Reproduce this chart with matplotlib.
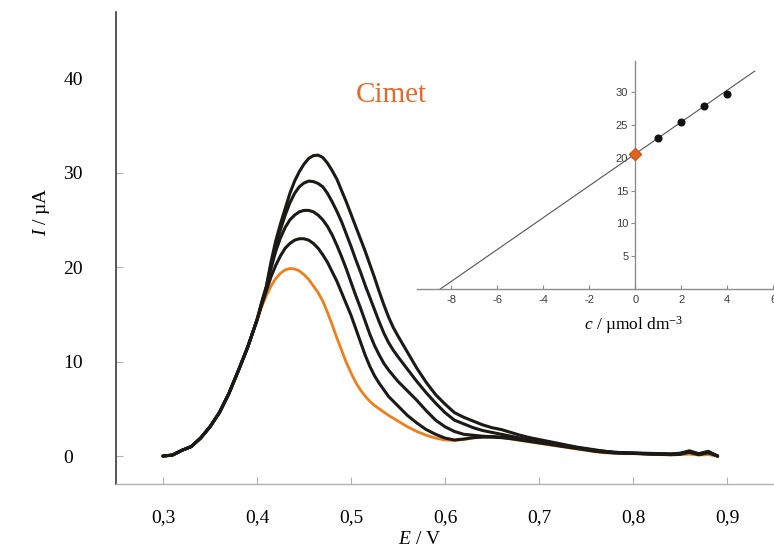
import numpy as np
import matplotlib
matplotlib.use("Agg")
import matplotlib.pyplot as plt

plt.rcParams["mathtext.fontset"] = "custom"
plt.rcParams["mathtext.rm"] = "Liberation Serif"
plt.rcParams["mathtext.it"] = "Liberation Serif:italic"

# ---------------- data ----------------
E = [0.30, 0.31, 0.32, 0.33, 0.34, 0.35, 0.36, 0.37, 0.38, 0.39, 0.40,
     0.405, 0.41, 0.415, 0.42, 0.425, 0.43, 0.435, 0.44, 0.445, 0.45,
     0.455, 0.46, 0.465, 0.47, 0.475, 0.48, 0.485, 0.49, 0.495, 0.50,
     0.505, 0.51, 0.515, 0.52, 0.525, 0.53, 0.535, 0.54, 0.545, 0.55,
     0.56, 0.57, 0.58, 0.59, 0.60, 0.61, 0.62, 0.63, 0.64, 0.65,
     0.66, 0.67, 0.68, 0.69, 0.70, 0.71, 0.72, 0.73, 0.74, 0.75,
     0.76, 0.77, 0.78, 0.79, 0.80, 0.81, 0.82, 0.83, 0.84, 0.85,
     0.86, 0.87, 0.88, 0.89]

rise = [0.0, 0.1, 0.6, 1.0, 1.9, 3.1, 4.6, 6.6, 9.0, 11.5, 14.4]

I_sample = rise + [
    15.8, 17.0, 18.0, 18.8, 19.35, 19.7, 19.85, 19.8, 19.6, 19.2,
    18.7, 18.0, 17.3, 16.4, 15.2, 13.9, 12.5, 11.2, 9.9, 8.8,
    7.8, 7.0, 6.35, 5.8, 5.35, 5.0, 4.65, 4.3, 4.0, 3.7,
    3.1, 2.6, 2.2, 1.9, 1.7, 1.65, 1.75, 1.9, 2.05, 2.1,
    1.95, 1.8, 1.65, 1.5, 1.35, 1.2, 1.05, 0.9, 0.75, 0.6,
    0.45, 0.35, 0.3, 0.25, 0.25, 0.2, 0.15, 0.15, 0.1, 0.15,
    0.2, 0.1, 0.15, 0.0]

I_add1 = rise + [
    16.0, 17.5, 19.0, 20.2, 21.2, 22.0, 22.5, 22.85, 23.0, 23.0,
    22.85, 22.5, 22.0, 21.3, 20.5, 19.5, 18.5, 17.3, 16.1, 14.9,
    13.5, 12.1, 10.7, 9.5, 8.5, 7.7, 7.0, 6.3, 5.8, 5.3,
    4.3, 3.5, 2.8, 2.3, 1.9, 1.7, 1.8, 1.95, 2.0, 2.0,
    1.95, 1.85, 1.7, 1.55, 1.4, 1.25, 1.1, 0.95, 0.8, 0.65,
    0.5, 0.4, 0.33, 0.3, 0.28, 0.25, 0.2, 0.2, 0.15, 0.2,
    0.4, 0.15, 0.35, 0.0]

I_add2 = rise + [
    16.1, 17.7, 19.9, 21.7, 23.1, 24.2, 25.0, 25.5, 25.85, 26.0,
    26.0, 25.85, 25.5, 25.0, 24.3, 23.4, 22.3, 21.1, 19.8, 18.4,
    17.0, 15.7, 14.3, 12.9, 11.7, 10.7, 9.8, 9.1, 8.5, 7.9,
    6.9, 5.9, 4.8, 3.8, 3.1, 2.6, 2.3, 2.2, 2.1, 2.05,
    2.0, 1.9, 1.75, 1.6, 1.45, 1.3, 1.15, 1.0, 0.85, 0.7,
    0.55, 0.45, 0.35, 0.32, 0.3, 0.25, 0.22, 0.2, 0.18, 0.2,
    0.45, 0.15, 0.4, 0.0]

I_add3 = rise + [
    16.2, 17.9, 20.3, 22.3, 24.0, 25.5, 26.8, 27.8, 28.5, 28.9,
    29.1, 29.05, 28.85, 28.5, 27.8, 26.9, 25.9, 24.8, 23.5, 22.2,
    20.8, 19.5, 18.1, 16.8, 15.5, 14.2, 13.0, 12.0, 11.2, 10.5,
    9.2, 7.9, 6.7, 5.6, 4.6, 3.8, 3.4, 3.0, 2.7, 2.5,
    2.3, 2.1, 1.9, 1.7, 1.55, 1.4, 1.2, 1.05, 0.9, 0.75,
    0.6, 0.5, 0.4, 0.35, 0.32, 0.28, 0.25, 0.22, 0.2, 0.25,
    0.5, 0.2, 0.45, 0.0]

I_add4 = rise + [
    16.3, 18.0, 20.6, 22.8, 24.6, 26.2, 27.8, 29.1, 30.1, 30.9,
    31.5, 31.8, 31.85, 31.6, 31.0, 30.2, 29.3, 28.1, 26.9, 25.6,
    24.3, 23.0, 21.7, 20.3, 18.9, 17.4, 16.0, 14.7, 13.6, 12.7,
    11.0, 9.3, 7.8, 6.5, 5.5, 4.6, 4.1, 3.7, 3.3, 3.0,
    2.8, 2.5, 2.2, 1.95, 1.75, 1.55, 1.35, 1.15, 0.95, 0.8,
    0.65, 0.5, 0.4, 0.35, 0.32, 0.3, 0.28, 0.25, 0.22, 0.3,
    0.55, 0.25, 0.5, 0.0]

black_series = [I_add1, I_add2, I_add3, I_add4]

x_ticks = [0.3, 0.4, 0.5, 0.6, 0.7, 0.8, 0.9]
x_ticklabels = ["0,3", "0,4", "0,5", "0,6", "0,7", "0,8", "0,9"]
y_ticks = [0, 10, 20, 30, 40]

# inset: standard addition plot
c_added = [1, 2, 3, 4]
I_added = [23.0, 25.5, 27.9, 29.7]
c_sample = [0]
I_peak_sample = [20.6]
fit_slope = 2.43
fit_intercept = 20.62
fit_c_end = 5.2
inset_xticks = [-8, -6, -4, -2, 0, 2, 4, 6]
inset_yticks = [5, 10, 15, 20, 25, 30]

ORANGE = "#EE7F1A"
ORANGE_TXT = "#E8692A"
BLACK = "#1c1a17"

# ---------------- figure ----------------
fig = plt.figure(figsize=(7.74, 5.52), dpi=100)
serif = ["Liberation Serif", "DejaVu Serif"]
sans = ["Liberation Sans", "DejaVu Sans"]

ax = fig.add_axes([116 / 774, (552 - 484) / 552, (774 - 116) / 774, (484 - 12) / 552])
ax.set_xlim(0.25, 0.95)
ax.set_ylim(-2.96, 47.0)

for s in black_series:
    ax.plot(E, s, color=BLACK, lw=2.2, solid_joinstyle="round", solid_capstyle="round", zorder=3)
ax.plot(E, I_sample, color=ORANGE, lw=2.0, solid_joinstyle="round", zorder=2)

for side in ["top", "right"]:
    ax.spines[side].set_visible(False)
ax.spines["left"].set_color("#3a3a3a")
ax.spines["left"].set_linewidth(1.2)
ax.spines["bottom"].set_color("#b0b0b0")
ax.spines["bottom"].set_linewidth(1.0)

ax.set_xticks(x_ticks)
ax.set_xticklabels(x_ticklabels, fontfamily=serif, fontsize=14)
ax.set_yticks(y_ticks)
ax.set_yticklabels([str(v) for v in y_ticks], fontfamily=serif, fontsize=14)
for lbl in ax.get_yticklabels():
    lbl.set_horizontalalignment("left")
ax.tick_params(axis="x", direction="in", length=5, width=0.8, color="#b0b0b0", pad=18)
ax.tick_params(axis="y", direction="in", length=5, width=0.8, color="#b0b0b0", pad=38)
ax.yaxis.get_major_ticks()[-1].tick1line.set_visible(False)

fig.text(420 / 774, 1 - 540 / 552, r"$\mathit{E}$ / V", fontfamily=serif, fontsize=14,
         ha="center", va="center")
fig.text(42 / 774, 1 - 212 / 552, r"$\mathit{I}$ / µA", fontfamily=serif, fontsize=14,
         ha="center", va="center", rotation=90)

ax.text(0.5426, 38.2, "Cimet", color=ORANGE_TXT, fontfamily=serif, fontsize=21,
        ha="center", va="center")

# ---------------- inset ----------------
ia = fig.add_axes([417 / 774, (552 - 289) / 552, (774 - 417) / 774, (289 - 61) / 552])
ia.set_xlim(-9.5, 6.04)
ia.set_ylim(0, 34.8)
ia.patch.set_alpha(0)
for side in ["top", "right"]:
    ia.spines[side].set_visible(False)
ia.spines["left"].set_position(("data", 0))
for side in ["left", "bottom"]:
    ia.spines[side].set_color("#8c8c8c")
    ia.spines[side].set_linewidth(1.0)
ia.set_xticks(inset_xticks)
ia.set_xticklabels([str(v) for v in inset_xticks], fontfamily=sans, fontsize=8, color="#3a3a3a")
ia.set_yticks(inset_yticks)
ia.set_yticklabels([str(v) for v in inset_yticks], fontfamily=sans, fontsize=8, color="#3a3a3a")
ia.tick_params(axis="x", direction="in", length=3, width=0.8, color="#8c8c8c", pad=4)
ia.tick_params(axis="y", direction="out", length=3, width=0.8, color="#8c8c8c", pad=2)

c_int = -fit_intercept / fit_slope
line_c = np.array([c_int, fit_c_end])
ia.plot(line_c, fit_intercept + fit_slope * line_c, color="#555555", lw=0.8, zorder=2)
ia.plot(c_added, I_added, "o", color="#111111", ms=4.8, zorder=3)
ia.plot(c_sample, I_peak_sample, "D", color="#E2661C", mec="#C9561A", ms=6.5, zorder=4, clip_on=False)

fig.text(634 / 774, 1 - 325 / 552, r"$\mathit{c}$ / µmol dm$^{\mathregular{-3}}$",
         fontfamily=serif, fontsize=12.5, ha="center", va="center")

fig.savefig("out.png", dpi=100)
